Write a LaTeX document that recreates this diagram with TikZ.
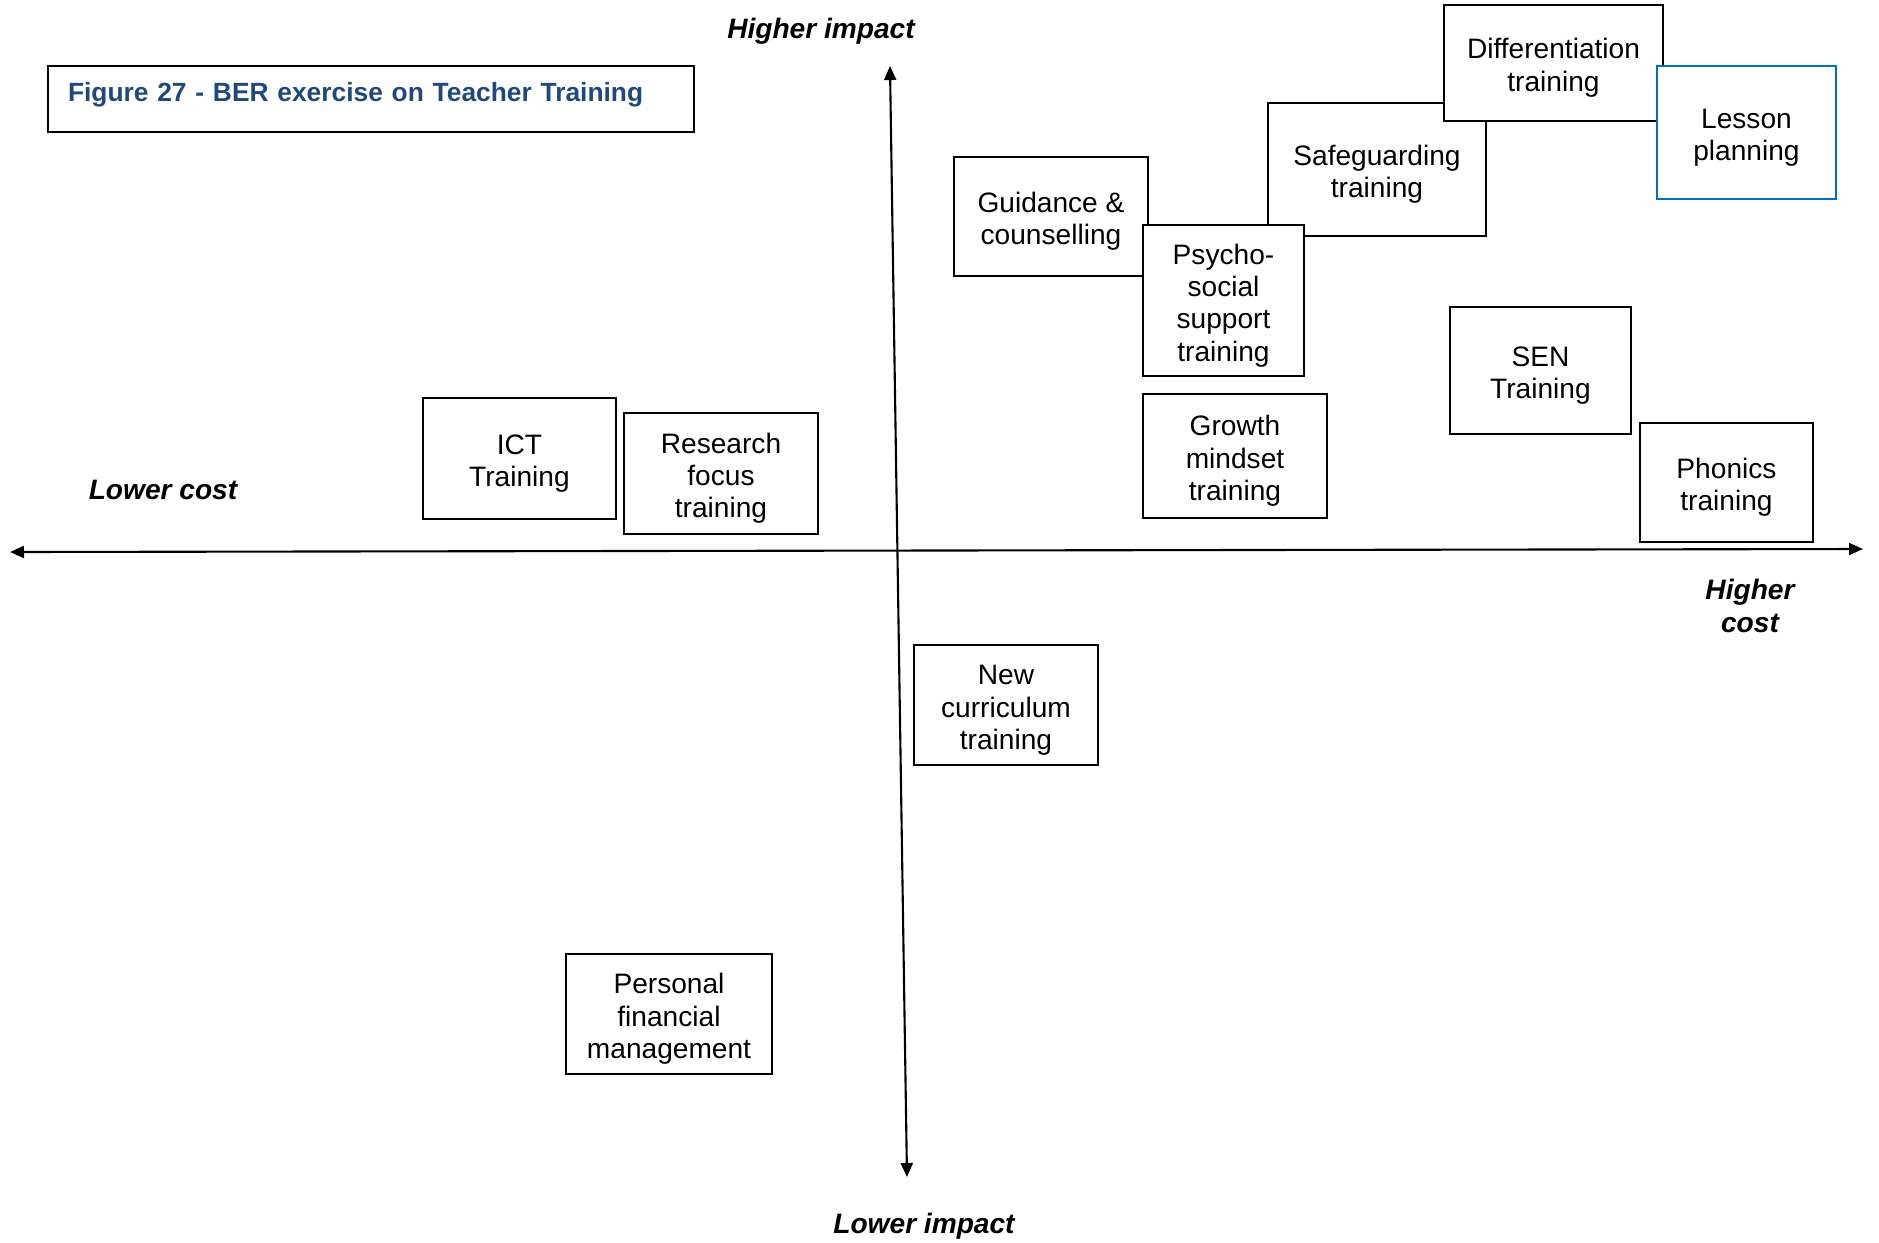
\documentclass[tikz,border=0pt]{standalone}
\usepackage{fontspec}
\setmainfont{Liberation Sans}
\usepackage{xcolor}
\usetikzlibrary{arrows.meta}
\definecolor{figblue}{RGB}{31,73,125}
\definecolor{lessonblue}{RGB}{0,112,192}
% box text: centred lines, set a little low as in the source
\newcommand{\boxlines}[1]{\raisebox{-1.6pt}[\height][\depth]{\begin{tabular}{@{}c@{}}#1\end{tabular}}}
\tikzset{
  tbox/.style={draw=black, fill=white, line width=0.6pt, inner sep=1pt,
    font=\fontsize{8}{9.2}\selectfont},
  axislabel/.style={align=center, font=\fontsize{8}{9.2}\selectfont\bfseries\itshape},
  axisline/.style={line width=0.6pt, {Triangle[length=1.4mm,width=1.2mm]}-{Triangle[length=1.4mm,width=1.2mm]}}
}

\begin{document}
\begin{tikzpicture}[x=0.1mm,y=-0.1mm]
  \useasboundingbox (0,0) rectangle (1879,1242);

  % Title
  \node[draw=black, line width=0.5pt, minimum width=64.6mm, minimum height=6.6mm, inner xsep=2mm,
    text width=60.6mm, align=left, text depth=1.4mm, text=figblue,
    font=\fontsize{7.5}{9}\selectfont\bfseries] (title) at (371,99) {Figure 27 - BER exercise on Teacher Training};

  % Axes
  \coordinate (costlow) at (10,552);
  \coordinate (costhigh) at (1863,549);
  \coordinate (impacthigh) at (890,66);
  \coordinate (impactlow) at (907,1177);
  \draw[axisline] (costlow) -- (costhigh);
  \draw[axisline] (impacthigh) -- (impactlow);

  % Axis labels
  \node[axislabel] (hiimp) at (821,31.5) {Higher impact};
  \node[axislabel] (loimp) at (924,1226.5) {Lower impact};
  \node[axislabel] (locost) at (163,490) {Lower cost};
  \node[axislabel] (hicost) at (1750,606) {Higher\\cost};

  % Upper right cluster (drawing order gives the overlaps)
  \node[tbox, minimum width=19.4mm, minimum height=11.9mm] (guid) at (1051,216.5) {\boxlines{Guidance \&\\counselling}};
  \node[tbox, minimum width=21.8mm, minimum height=13.3mm] (safe) at (1377,169.5) {\boxlines{Safeguarding\\training}};
  \node[tbox, minimum width=16.1mm, minimum height=15.1mm] (psycho) at (1223.5,300.5) {\boxlines{Psycho-\\social\\support\\training}};
  \node[tbox, minimum width=21.9mm, minimum height=11.6mm] (diff) at (1553.5,63) {\boxlines{Differentiation\\training}};
  \node[tbox, draw=lessonblue, minimum width=17.9mm, minimum height=13.3mm] (lesson) at (1746.5,132.5) {\boxlines{Lesson\\planning}};

  \node[tbox, minimum width=18.1mm, minimum height=12.7mm] (sen) at (1540.5,370.5) {\boxlines{SEN\\Training}};
  \node[tbox, minimum width=18.4mm, minimum height=12.4mm] (growth) at (1235,456) {\boxlines{Growth\\mindset\\training}};
  \node[tbox, minimum width=17.3mm, minimum height=11.9mm] (phonics) at (1726.5,482.5) {\boxlines{Phonics\\training}};

  % Upper left
  \node[tbox, minimum width=19.3mm, minimum height=12.1mm] (ict) at (519.5,458.5) {\boxlines{ICT\\Training}};
  \node[tbox, minimum width=19.4mm, minimum height=12.1mm] (research) at (721,473.5) {\boxlines{Research\\focus\\training}};

  % Lower half
  \node[tbox, minimum width=18.4mm, minimum height=12.0mm] (newcur) at (1006,705) {\boxlines{New\\curriculum\\training}};
  \node[tbox, minimum width=20.6mm, minimum height=12.0mm] (personal) at (669,1014) {\boxlines{Personal\\financial\\management}};
\end{tikzpicture}
\end{document}
